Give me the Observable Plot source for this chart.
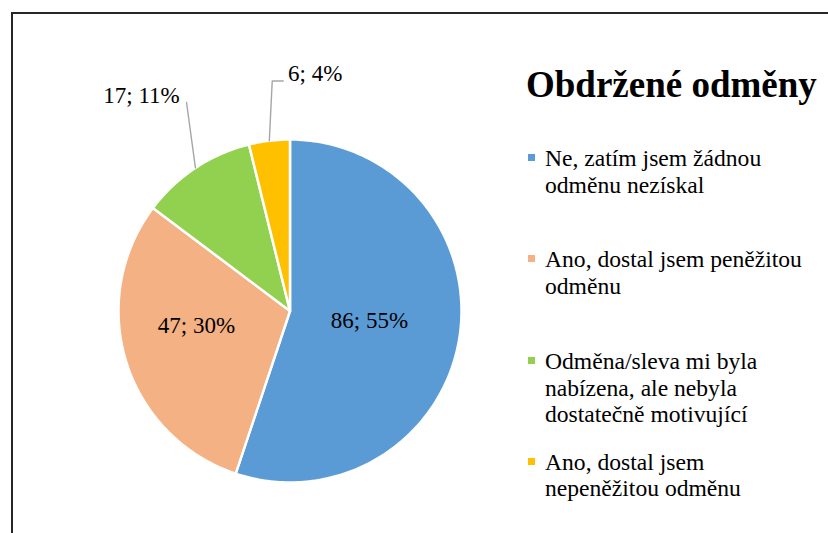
<!DOCTYPE html>
<html><head><meta charset="utf-8">
<script src="https://cdn.jsdelivr.net/npm/d3@7"></script>
<script src="https://cdn.jsdelivr.net/npm/@observablehq/plot@0.6"></script>
<style>
html,body{margin:0;padding:0;width:828px;height:533px;overflow:hidden;background:#fff;font-family:'Liberation Serif',serif;}
#chart{position:absolute;left:0;top:0;}
#frame{position:absolute;left:11px;top:12px;width:900px;height:600px;border:2px solid #262626;box-sizing:border-box;pointer-events:none;}
#title{position:absolute;left:526px;top:66px;font-family:'Liberation Serif',serif;font-weight:bold;font-size:37px;line-height:37px;color:#000;white-space:nowrap;}
.leg{position:absolute;left:545px;font-family:'Liberation Serif',serif;font-size:23.6px;line-height:26.6px;color:#000;white-space:nowrap;}
.sw{position:absolute;left:-17px;top:9px;width:7px;height:7px;}
</style></head><body>
<div id="chart"></div>
<div id="title"></div>
<div id="legend"></div>
<div id="frame"></div>
<script>
// ---- data ----
const categories = [
  "Ne, zatím jsem žádnou odměnu nezískal",
  "Ano, dostal jsem peněžitou odměnu",
  "Odměna/sleva mi byla nabízena, ale nebyla dostatečně motivující",
  "Ano, dostal jsem nepeněžitou odměnu"
];
const counts = [86, 47, 17, 6];
const legendLines = [
  ["Ne, zatím jsem žádnou", "odměnu nezískal"],
  ["Ano, dostal jsem peněžitou", "odměnu"],
  ["Odměna/sleva mi byla", "nabízena, ale nebyla", "dostatečně motivující"],
  ["Ano, dostal jsem", "nepeněžitou odměnu"]
];
const chartTitle = "Obdržené odměny";

// ---- style ----
const colors = ["#5B9BD5", "#F4B183", "#92D050", "#FFC000"];
const R = 171.5;             // pie radius, px
const CX = 289.5, CY = 310.5; // pie centre, px
const labelRadius = [0.467, 0.552, 1.526, 1.39];
const labelAngleShift = [-2.4, 8.5, -1.1, 13];
const leaderOffsets = [null, null, [[45, 7]], [[-43, 7], [-32, 7]]]; // px from label centre
const legendTops = [145.4, 246, 348, 448.8];

const W = 828, H = 533;
const polar = (deg, r) => ({x: r * Math.sin(deg * Math.PI / 180), y: r * Math.cos(deg * Math.PI / 180)});

const total = d3.sum(counts);
let acc = 0;
const slices = counts.map((v, i) => {
  const a0 = acc / total * 360; acc += v; const a1 = acc / total * 360;
  return {i, cat: categories[i], value: v, a0, a1, mid: (a0 + a1) / 2,
          label: `${v}; ${Math.round(v / total * 100)}%`};
});

const piePoints = slices.flatMap(s => {
  const pts = [{cat: s.cat, x: 0, y: 0}];
  const n = Math.max(2, Math.ceil(s.a1 - s.a0));
  for (let k = 0; k <= n; k++) pts.push({cat: s.cat, ...polar(s.a0 + (s.a1 - s.a0) * k / n, 1)});
  return pts;
});

const labels = slices.map(s => ({...s, ...polar(s.mid + labelAngleShift[s.i], labelRadius[s.i])}));

const leaders = labels.filter(l => leaderOffsets[l.i]).flatMap(l => {
  const pts = [{id: l.i, ...polar(l.mid, 1.0)}];
  for (const [dx, dy] of leaderOffsets[l.i]) pts.push({id: l.i, x: l.x + dx / R, y: l.y - dy / R});
  return pts;
});

const plot = Plot.plot({
  width: W, height: H,
  marginLeft: CX - R, marginRight: W - (CX + R),
  marginTop: CY - R, marginBottom: H - (CY + R),
  x: {domain: [-1, 1], axis: null},
  y: {domain: [-1, 1], axis: null},
  color: {domain: categories, range: colors},
  style: {background: "transparent", fontFamily: "'Liberation Serif', serif", overflow: "visible"},
  marks: [
    Plot.line(piePoints, {x: "x", y: "y", z: "cat", fill: "cat", stroke: "white", strokeWidth: 2.5,
      strokeLinejoin: "round", curve: "linear-closed"}),
    Plot.line(leaders, {x: "x", y: "y", z: "id", stroke: "#A6A6A6", strokeWidth: 1.4}),
    Plot.text(labels, {x: "x", y: "y", text: "label", fontSize: 23, fill: "#000", fontFamily: "Liberation Serif"})
  ]
});
document.getElementById("chart").appendChild(plot);

document.getElementById("title").textContent = chartTitle;
const leg = document.getElementById("legend");
legendLines.forEach((lines, i) => {
  const d = document.createElement("div");
  d.className = "leg";
  d.style.top = legendTops[i] + "px";
  d.innerHTML = `<span class="sw" style="background:${colors[i]}"></span>` + lines.join("<br>");
  leg.appendChild(d);
});
</script>
</body></html>
